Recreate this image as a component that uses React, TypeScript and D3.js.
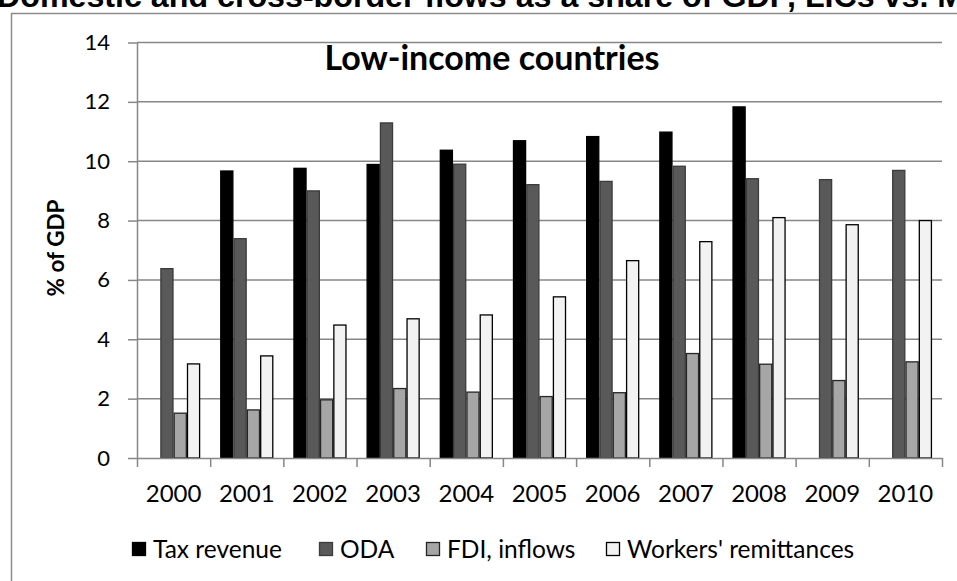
import React, { useEffect, useRef } from 'react';
import * as d3 from 'd3';

const years = ['2000', '2001', '2002', '2003', '2004', '2005', '2006', '2007', '2008', '2009', '2010'];
const seriesNames = ['Tax revenue', 'ODA', 'FDI, inflows', "Workers' remittances"];
const taxRevenue = [null, 9.67, 9.76, 9.89, 10.37, 10.69, 10.83, 10.98, 11.83, null, null];
const oda = [6.38, 7.39, 9.0, 11.29, 9.9, 9.21, 9.32, 9.83, 9.41, 9.38, 9.69];
const fdiInflows = [1.51, 1.62, 1.96, 2.34, 2.22, 2.07, 2.2, 3.52, 3.16, 2.61, 3.24];
const remittances = [3.17, 3.44, 4.48, 4.69, 4.82, 5.43, 6.65, 7.29, 8.1, 7.86, 8.0];
const yTicks = [0, 2, 4, 6, 8, 10, 12, 14];

const fills = ['#000000', '#595959', '#a6a6a6', '#f2f2f2'];
const strokes = ['#000000', '#3c3c3c', '#262626', '#000000'];

const App: React.FC = () => {
    const svgRef = useRef<SVGSVGElement>(null);

    useEffect(() => {
        document.body.style.margin = '0';
        if (!svgRef.current) return;

        const width = 957;
        const height = 581;
        const font = 'Lato, "Open Sans", sans-serif';

        const svg = d3.select(svgRef.current);
        svg.selectAll('*').remove();

        svg.append('rect').attr('width', width).attr('height', height).attr('fill', '#fff');

        // Title (cut off at the top, as in the original)
        svg.append('text')
            .attr('x', -3)
            .attr('y', 7)
            .attr('font-family', '"Liberation Sans", Arial, sans-serif')
            .attr('font-weight', 'bold')
            .attr('font-size', 32.2)
            .attr('fill', '#000')
            .text('Domestic and cross-border flows as a share of GDP, LICs vs. MICs');

        // chart frame
        svg.append('rect')
            .attr('x', 11.5)
            .attr('y', 13.5)
            .attr('width', 1000)
            .attr('height', 700)
            .attr('fill', 'none')
            .attr('stroke', '#8c8c8c')
            .attr('stroke-width', 1.5);

        const left = 137;
        const right = 942;
        const top = 42.5;
        const bottom = 458;

        const series = [taxRevenue, oda, fdiInflows, remittances];

        const x0 = d3.scaleBand<string>().domain(years).range([left, right]).padding(0);
        const x1 = d3.scaleBand<number>()
            .domain(d3.range(series.length))
            .range([0, x0.bandwidth()])
            .paddingInner(0)
            .paddingOuter(0.75);
        const y = d3.scaleLinear().domain([0, 14]).range([bottom, top]);

        const g = svg.append('g');

        // gridlines
        g.selectAll('line.grid')
            .data(yTicks.filter(t => t > 0))
            .enter()
            .append('line')
            .attr('x1', left)
            .attr('x2', right)
            .attr('y1', d => y(d))
            .attr('y2', d => y(d))
            .attr('stroke', '#878787')
            .attr('stroke-width', 1.5);

        // bars
        const rows = years.map((yr, i) => ({ yr, vals: series.map(s => s[i]) }));
        const groups = g.selectAll('g.cat')
            .data(rows)
            .enter()
            .append('g')
            .attr('transform', d => `translate(${x0(d.yr)},0)`);

        groups.selectAll('rect')
            .data(d => d.vals.map((v, k) => ({ v, k })).filter(e => e.v != null))
            .enter()
            .append('rect')
            .attr('x', d => (x1(d.k) as number) + 0.6)
            .attr('y', d => y(d.v as number))
            .attr('width', x1.bandwidth() - 1.2)
            .attr('height', d => bottom - y(d.v as number))
            .attr('fill', d => fills[d.k])
            .attr('stroke', d => strokes[d.k])
            .attr('stroke-width', 1.3);

        // axes
        const yAxis = d3.axisLeft(y).tickValues(yTicks).tickSize(9).tickPadding(18).tickSizeOuter(0);
        const yg = g.append('g').attr('transform', `translate(${left},0)`).call(yAxis);
        yg.selectAll('line').attr('stroke', '#878787').attr('stroke-width', 1.5);
        yg.select('.domain').attr('stroke', '#878787').attr('stroke-width', 1.5);
        yg.selectAll('text')
            .attr('font-family', font)
            .attr('font-size', 22)
            .attr('fill', '#000');

        const xTickScale = d3.scaleLinear().domain([0, years.length]).range([left, right]);
        const xAxis = d3.axisBottom(xTickScale).ticks(years.length).tickSize(9).tickFormat(() => '').tickSizeOuter(0);
        const xg = g.append('g').attr('transform', `translate(0,${bottom})`).call(xAxis);
        xg.selectAll('line').attr('stroke', '#878787').attr('stroke-width', 1.5);
        xg.select('.domain').attr('stroke', '#878787').attr('stroke-width', 1.5);

        g.selectAll('text.year')
            .data(years)
            .enter()
            .append('text')
            .attr('x', d => (x0(d) as number) + x0.bandwidth() / 2)
            .attr('y', 502)
            .attr('text-anchor', 'middle')
            .attr('font-family', font)
            .attr('font-size', 24)
            .attr('fill', '#000')
            .text(d => d);

        // y-axis title
        svg.append('text')
            .attr('transform', 'translate(64,248) rotate(-90)')
            .attr('text-anchor', 'middle')
            .attr('font-family', font)
            .attr('font-weight', 'bold')
            .attr('font-size', 22.5)
            .attr('fill', '#000')
            .text('% of GDP');

        // panel title
        svg.append('text')
            .attr('x', 492)
            .attr('y', 70)
            .attr('text-anchor', 'middle')
            .attr('font-family', font)
            .attr('font-weight', 'bold')
            .attr('font-size', 34)
            .attr('fill', '#000')
            .text('Low-income countries');

        // legend
        const legendX = [132, 319, 426, 606];
        const legend = svg.selectAll('g.legend')
            .data(seriesNames)
            .enter()
            .append('g')
            .attr('transform', (d, i) => `translate(${legendX[i]},549)`);
        legend.append('rect')
            .attr('x', 0.5)
            .attr('y', -6.5)
            .attr('width', 13)
            .attr('height', 13)
            .attr('fill', (d, i) => fills[i])
            .attr('stroke', (d, i) => strokes[i])
            .attr('stroke-width', 1.3);
        legend.append('text')
            .attr('x', 21)
            .attr('y', 8.5)
            .attr('font-family', font)
            .attr('font-size', 24.5)
            .attr('fill', '#000')
            .text(d => d);
    }, []);

    return <svg ref={svgRef} width={957} height={581} style={{ display: 'block' }} />;
};

export default App;
